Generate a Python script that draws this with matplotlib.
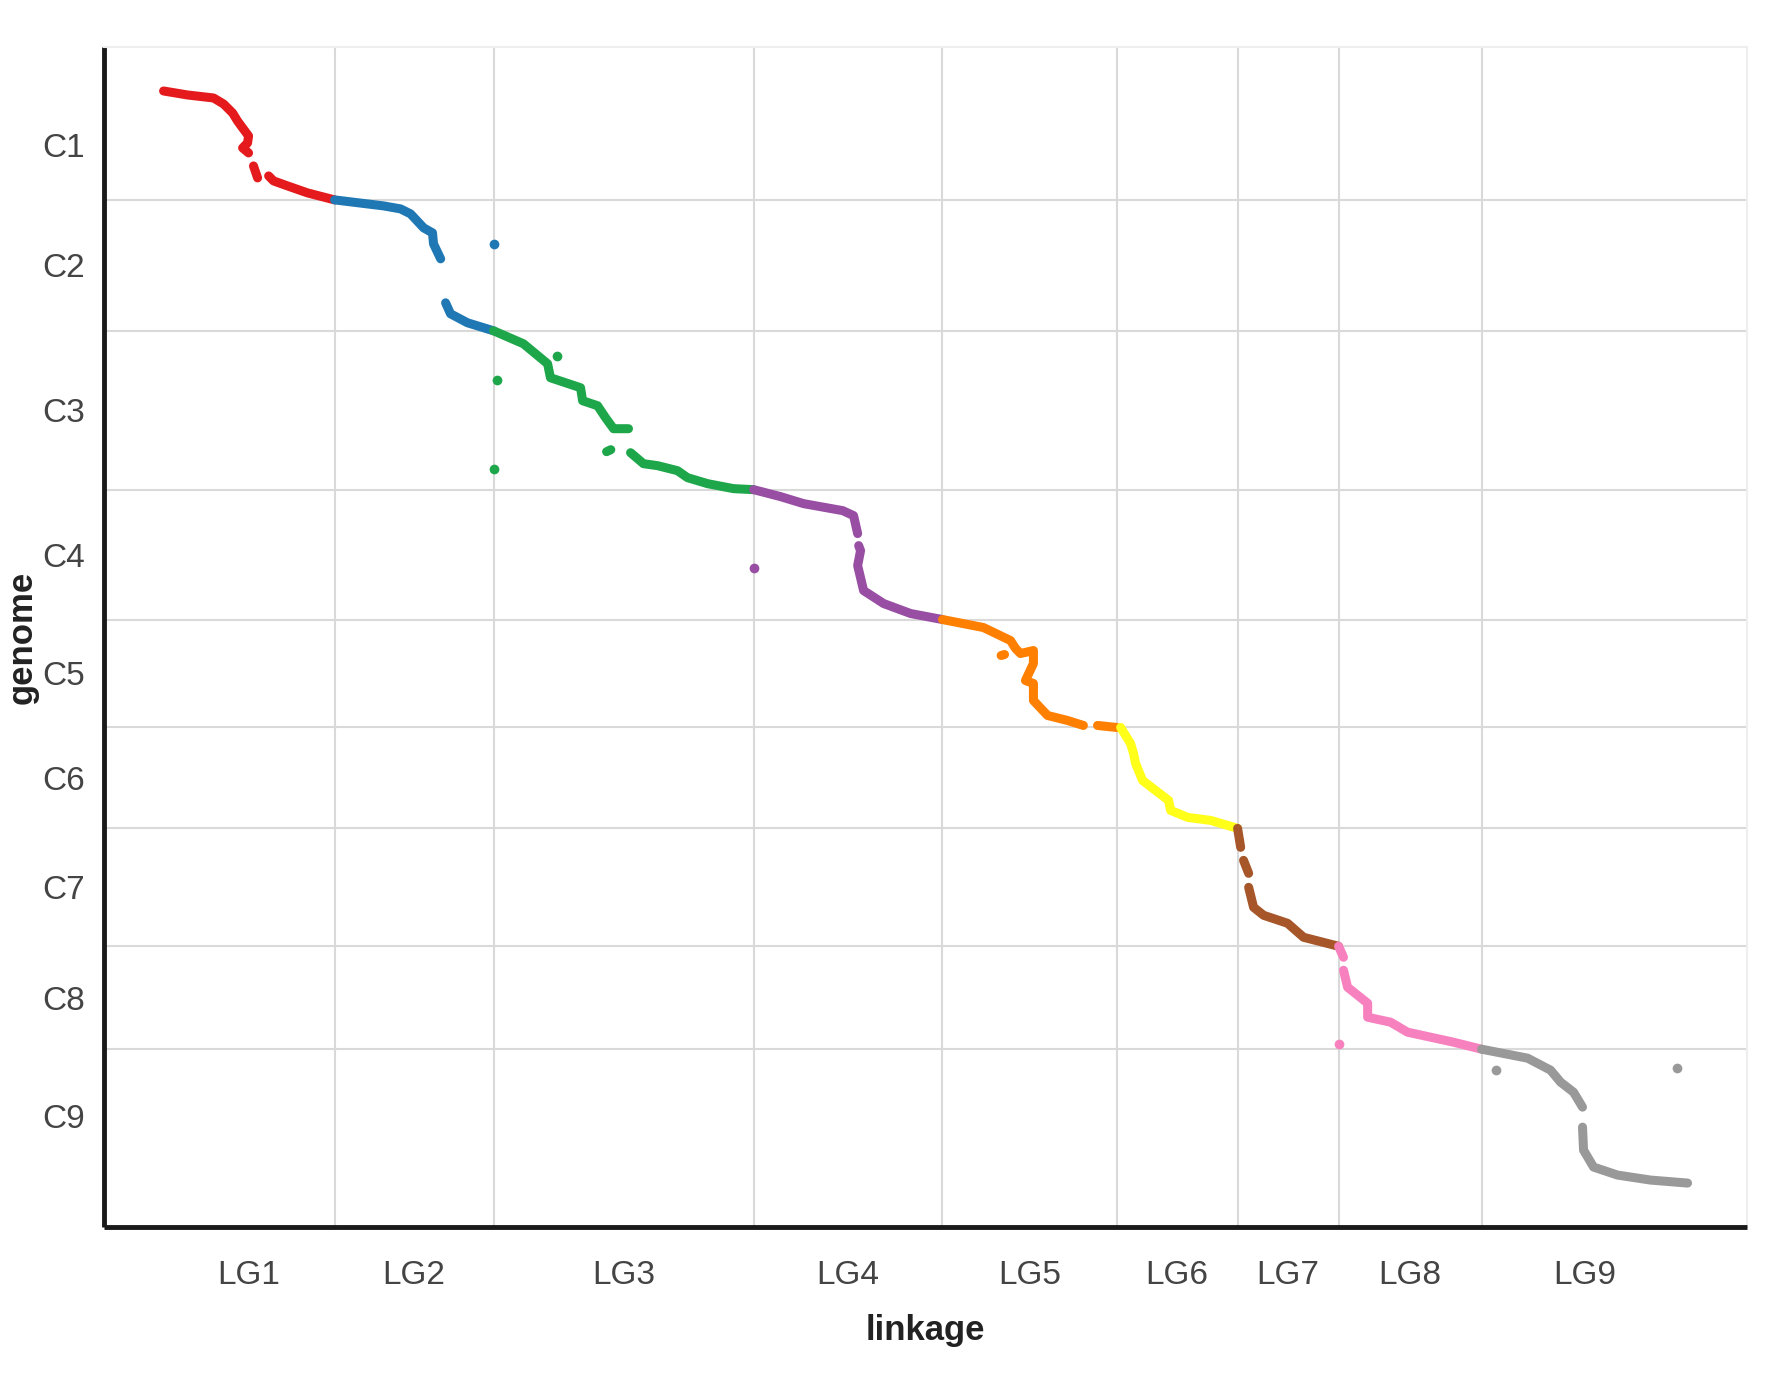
import matplotlib
matplotlib.use("Agg")
import matplotlib.pyplot as plt
import numpy as np

plt.rcParams['font.family'] = ['Liberation Sans Narrow', 'Liberation Sans', 'DejaVu Sans']

nan = np.nan

# linkage groups (cM) and chromosomes (Mb)
lg_names = ['LG1', 'LG2', 'LG3', 'LG4', 'LG5', 'LG6', 'LG7', 'LG8', 'LG9']
lg_len = [100.6, 93.5, 153.0, 111.1, 102.4, 71.2, 59.4, 84.1, 121.2]
chrom_names = ['C1', 'C2', 'C3', 'C4', 'C5', 'C6', 'C7', 'C8', 'C9']
chrom_len = [43.6, 52.4, 63.6, 52.0, 43.2, 40.4, 47.2, 41.2, 53.6]
colors = ['#e41a1c', '#1f78b4', '#1ea64a', '#984ea3', '#ff7f00',
          '#ffff1a', '#a65628', '#f781bf', '#999999']

# marker positions: cM within LG, Mb within chromosome (nan = gap)
lg_cm = [
    [0, 14.1, 29.4, 35.3, 40.6, 43.5, 46.5, 50.0, 49.4, 46.5, 50.0, nan, 52.9, 55.3, nan, 61.8, 64.7, 72.9, 84.7, 100.6],
    [0, 28.8, 38.8, 44.7, 52.4, 57.6, 58.2, 62.4, nan, 65.3, 68.2, 78.2, 93.5],
    [0, 17.6, 31.8, 33.5, 51.2, 52.4, 61.2, 65.9, 70.6, 79.4, nan, 66.5, 69.0, nan, 80.6, 88.2, 96.5, 108.2, 114.1, 125.9, 141.2, 152.9],
    [0, 15.9, 29.4, 52.4, 58.8, 61.2, nan, 61.8, 62.9, 61.2, 64.7, 76.5, 92.4, 111.1],
    [0, 24.1, 40.0, 43.0, 45.9, 53.5, 53.5, 48.8, 53.5, 53.5, 61.8, 73.5, 82.9, nan, 91.2, 102.4, nan, 34.5, 36.5],
    [2.4, 8.2, 10.0, 11.2, 15.3, 22.9, 30.6, 31.8, 41.8, 55.3, 71.2],
    [0, 1.8, nan, 3.5, 6.5, nan, 6.5, 9.4, 15.3, 29.4, 38.8, 59.4],
    [0, 2.9, nan, 2.9, 5.3, 11.2, 17.1, 17.1, 30.6, 40.6, 54.1, 67.6, 84.1],
    [0, 27.1, 40.6, 46.5, 54.1, 59.4, nan, 59.4, 60.0, 65.9, 80.0, 99.4, 121.2],
]
chrom_mb = [
    [0, 1.6, 2.8, 5.2, 8.8, 12.0, 14.8, 18.0, 20.8, 22.8, 24.8, nan, 30.0, 34.8, nan, 34.0, 36.0, 38.0, 40.8, 43.6],
    [0, 2.4, 3.6, 5.6, 11.2, 13.2, 17.6, 23.6, nan, 41.2, 45.6, 49.2, 52.4],
    [0, 5.2, 13.2, 18.8, 22.8, 28.0, 30.0, 34.8, 39.2, 39.2, nan, 48.4, 47.6, nan, 48.8, 53.2, 54.0, 56.0, 58.8, 61.2, 63.2, 63.6],
    [0, 2.8, 5.6, 8.4, 10.4, 17.6, nan, 22.4, 24.4, 30.4, 40.4, 45.6, 49.6, 52.0],
    [0, 3.2, 8.4, 11.6, 13.6, 12.4, 17.6, 24.4, 25.6, 32.4, 38.4, 40.4, 42.4, nan, 42.4, 43.2, nan, 14.4, 14.0],
    [0, 6.4, 10.4, 14.4, 21.2, 25.2, 29.2, 33.2, 36.0, 37.2, 40.4],
    [0, 7.6, nan, 12.8, 18.0, nan, 23.6, 31.6, 34.8, 38.0, 43.6, 47.2],
    [0, 4.4, nan, 9.6, 16.4, 19.6, 22.8, 28.4, 30.4, 34.4, 36.4, 38.4, 41.2],
    [0, 3.6, 8.4, 13.2, 17.2, 23.2, nan, 31.2, 40.4, 47.2, 50.4, 52.4, 53.6],
]
# isolated markers (LG index, cM, Mb)
out_lg = [1, 2, 2, 2, 3, 7, 8, 8]
out_cm = [93.5, 37.6, 1.8, 0.0, 0.0, 0.0, 8.8, 114.7]
out_mb = [17.6, 10.0, 19.6, 55.2, 31.2, 39.2, 8.4, 7.6]

x0 = np.concatenate([[0], np.cumsum(lg_len)])
y0 = np.concatenate([[0], np.cumsum(chrom_len)])

fig = plt.figure(figsize=(17.82, 13.79), dpi=100)
ax = fig.add_axes([0.0584, 0.1102, 0.922, 0.8557])

for i in range(len(lg_names)):
    xs = np.array(lg_cm[i]) + x0[i]
    ys = np.array(chrom_mb[i]) + y0[i]
    ax.plot(xs, ys, color=colors[i], lw=6.5, solid_capstyle='round',
            solid_joinstyle='round', zorder=3)
for k, cm, mb in zip(out_lg, out_cm, out_mb):
    ax.plot(cm + x0[k], mb + y0[k], 'o', color=colors[k], ms=7, mew=0, zorder=3)

ax.set_xlim(-35, x0[-1] + 35)
ax.set_ylim(y0[-1] + 17.6, -17.6)

ax.set_xticks((x0[:-1] + x0[1:]) / 2)
ax.set_xticklabels(lg_names)
ax.set_yticks((y0[:-1] + y0[1:]) / 2)
ax.set_yticklabels(chrom_names)
ax.set_xticks(x0[1:-1], minor=True)
ax.set_yticks(y0[1:-1], minor=True)
ax.tick_params(which='both', length=0)
ax.tick_params(axis='x', which='major', pad=24, labelsize=24, labelcolor='#444444')
ax.tick_params(axis='y', which='major', pad=14, labelsize=24, labelcolor='#444444')
ax.grid(which='minor', color='#d9d9d9', lw=1.5)
ax.grid(which='major', visible=False)
ax.set_axisbelow(True)

for s in ['left', 'bottom']:
    ax.spines[s].set_linewidth(3.5)
    ax.spines[s].set_color('#1a1a1a')
    ax.spines[s].set_capstyle('butt')
for s in ['top', 'right']:
    ax.spines[s].set_linewidth(1.5)
    ax.spines[s].set_color('#eeeeee')

ax.set_xlabel('linkage', fontsize=25, fontweight='bold', color='#222222', labelpad=16)
ax.set_ylabel('genome', fontsize=25, fontweight='bold', color='#222222', labelpad=2)

fig.savefig('out.png', dpi=100)
